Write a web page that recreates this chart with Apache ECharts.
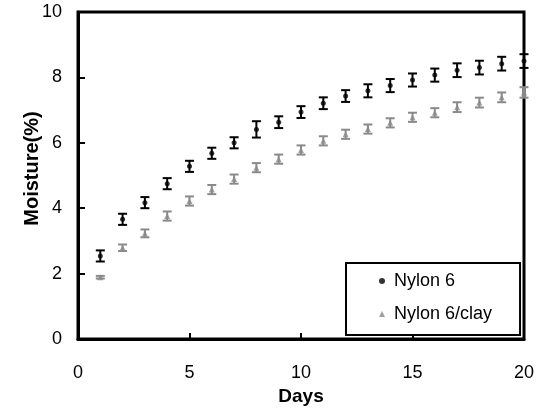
<!DOCTYPE html>
<html>
<head>
<meta charset="utf-8">
<script src="https://cdn.jsdelivr.net/npm/echarts@6/dist/echarts.min.js"></script>
<style>html,body{margin:0;padding:0;background:#fff}#c{width:542px;height:414px}</style>
</head>
<body>
<div id="c"></div>
<script>
const days = [1,2,3,4,5,6,7,8,9,10,11,12,13,14,15,16,17,18,19,20];
const nylon6 = [2.54,3.66,4.17,4.75,5.28,5.68,6.00,6.41,6.63,6.94,7.21,7.43,7.59,7.75,7.92,8.07,8.22,8.30,8.42,8.50];
const nylon6Err = [0.17,0.17,0.17,0.17,0.17,0.17,0.17,0.25,0.18,0.18,0.18,0.18,0.2,0.2,0.2,0.2,0.21,0.21,0.21,0.21];
const nylon6clay = [1.89,2.79,3.23,3.76,4.22,4.57,4.89,5.24,5.50,5.78,6.06,6.26,6.42,6.61,6.78,6.92,7.09,7.23,7.39,7.54];
const nylon6clayErr = [0.04,0.1,0.12,0.14,0.14,0.14,0.14,0.14,0.14,0.14,0.14,0.14,0.14,0.14,0.14,0.14,0.15,0.15,0.15,0.16];
const xTicks = [0,5,10,15,20];
const yTicks = [0,2,4,6,8,10];

const pts = (vals) => days.map((d,i)=>[d, vals[i]]);
const errs = (vals, e) => days.map((d,i)=>[d, vals[i]-e[i], vals[i]+e[i]]);

function errRender(color){
  return function(params, api){
    const x = api.value(0);
    const top = api.coord([x, api.value(2)]);
    const bot = api.coord([x, api.value(1)]);
    const hw = 4.5;
    const st = {stroke: color, lineWidth: 2};
    return {type:'group', children:[
      {type:'line', shape:{x1:top[0], y1:top[1], x2:bot[0], y2:bot[1]}, style:st},
      {type:'line', shape:{x1:top[0]-hw, y1:top[1], x2:top[0]+hw, y2:top[1]}, style:st},
      {type:'line', shape:{x1:bot[0]-hw, y1:bot[1], x2:bot[0]+hw, y2:bot[1]}, style:st}
    ]};
  };
}

const chart = echarts.init(document.getElementById('c'));
const font = 'Liberation Sans, Arial, sans-serif';
chart.setOption({
  animation:false,
  backgroundColor:'#fff',
  grid:{left:78, right:18, top:12, bottom:75, show:true, borderColor:'#000', borderWidth:3},
  xAxis:{type:'value', min:xTicks[0], max:xTicks[xTicks.length-1], interval:5,
    name:'Days', nameLocation:'middle', nameGap:47,
    nameTextStyle:{fontFamily:font, fontSize:19, fontWeight:'bold', color:'#000'},
    axisLine:{lineStyle:{color:'#000', width:3}},
    axisTick:{inside:true, length:6, lineStyle:{color:'#000', width:2}},
    axisLabel:{fontFamily:font, fontSize:18, color:'#000', margin:25},
    splitLine:{show:false}},
  yAxis:{type:'value', min:yTicks[0], max:yTicks[yTicks.length-1], interval:2,
    name:'Moisture(%)', nameLocation:'middle', nameGap:36, nameMoveOverlap:false,
    nameTextStyle:{fontFamily:font, fontSize:20, fontWeight:'bold', color:'#000', padding:[0,0,0,14]},
    axisLine:{lineStyle:{color:'#000', width:3}},
    axisTick:{inside:true, length:7, lineStyle:{color:'#000', width:2}},
    axisLabel:{fontFamily:font, fontSize:18, color:'#000', margin:16},
    splitLine:{show:false}},
  legend:{
    data:[{name:'Nylon 6', icon:'circle'},{name:'Nylon 6/clay', icon:'triangle'}],
    orient:'vertical', left:346, top:263,
    itemWidth:6, itemHeight:6, itemGap:13,
    padding:[8,28,11,33],
    backgroundColor:'#fff', borderColor:'#000', borderWidth:2,
    textStyle:{fontFamily:font, fontSize:18, color:'#000', lineHeight:20, padding:[0,0,0,4]}
  },
  series:[
    {type:'custom', name:'e1', renderItem:errRender('#000'), data:errs(nylon6, nylon6Err), clip:false, z:3, silent:true},
    {type:'custom', name:'e2', renderItem:errRender('#8a8a8a'), data:errs(nylon6clay, nylon6clayErr), clip:false, z:3, silent:true},
    {type:'scatter', name:'Nylon 6', data:pts(nylon6), symbol:'circle', symbolSize:5, itemStyle:{color:'#000'}, clip:false, z:4},
    {type:'scatter', name:'Nylon 6/clay', data:pts(nylon6clay), symbol:'triangle', symbolSize:6, itemStyle:{color:'#8a8a8a'}, clip:false, z:4}
  ]
});
</script>
</body>
</html>
